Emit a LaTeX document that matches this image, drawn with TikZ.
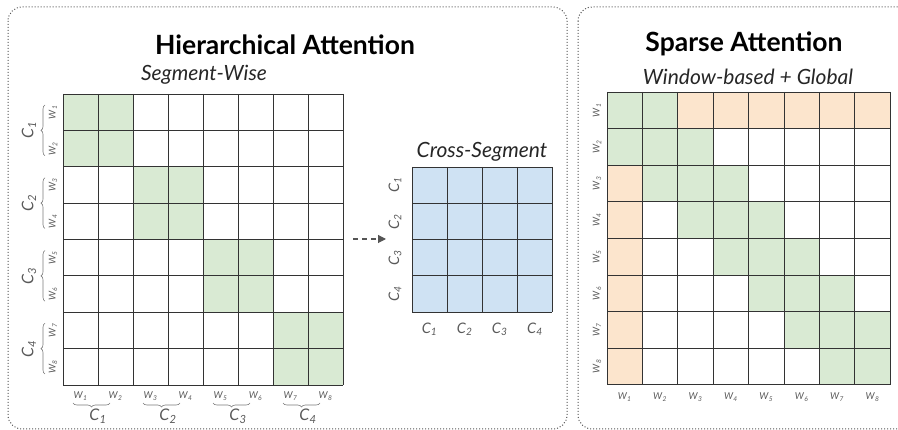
\documentclass[tikz,border=0pt]{standalone}
\usepackage{fontspec}
\setmainfont{Lato}
\usetikzlibrary{arrows.meta,decorations.pathreplacing}
\definecolor{gfill}{HTML}{D9EAD3}
\definecolor{ofill}{HTML}{FCE5CD}
\definecolor{bfill}{HTML}{CFE2F3}
\definecolor{gline}{HTML}{333333}
\definecolor{labc}{HTML}{595959}
\definecolor{panelc}{HTML}{555555}
\newcommand\lbl[2]{\textit{#1}\textsubscript{\textit{#2}}}
\begin{document}
\begin{tikzpicture}[x=1pt,y=-1pt,
  panel/.style={draw=panelc,dotted,line width=1pt,rounded corners=14pt},
  gl/.style={draw=gline,line width=0.8pt},
  title/.style={font=\fontsize{26.5}{30}\selectfont\bfseries,text=black,inner sep=0pt},
  subtitle/.style={font=\fontsize{21}{24}\selectfont\itshape,text=black!85,inner sep=0pt},
  clab/.style={font=\fontsize{16}{18}\selectfont,text=labc,inner sep=0pt},
  wlab/.style={font=\fontsize{9.5}{10}\selectfont,text=labc,inner sep=0pt},
  brc/.style={draw=labc!80,line width=0.6pt,decorate,decoration={brace,amplitude=4pt}},
  arr/.style={draw=panelc,line width=1.1pt,dash pattern=on 5pt off 4pt,-{Triangle[length=8pt,width=8pt]}}
]
\useasboundingbox (0,0) rectangle (898,430);
\begin{scope}
\clip (0,0) rectangle (898,430);
\draw[panel] (8,7) rectangle (567,429);
\draw[panel] (578,7) rectangle (920,429);
\end{scope}

% titles
\node[title] (t1) at (285,45) {Hierarchical Attention};
\node[subtitle] (st1) at (204,75) {Segment-Wise};
\node[title] (t2) at (744,44) {Sparse Attention};
\node[subtitle] (st2) at (748,77) {Window-based + Global};
\node[subtitle] (st3) at (482,152) {Cross-Segment};

% ---------- left matrix ----------
\def\lx{63}\def\ly{94}\def\lw{35}\def\lh{36.375}
\foreach \i in {0,...,3}
  \fill[gfill] (\lx+2*\lw*\i,\ly+2*\lh*\i) rectangle (\lx+2*\lw*\i+2*\lw,\ly+2*\lh*\i+2*\lh);
\foreach \k in {0,...,8} {
  \draw[gl] (\lx+\lw*\k,\ly) -- (\lx+\lw*\k,\ly+8*\lh);
  \draw[gl] (\lx,\ly+\lh*\k) -- (\lx+8*\lw,\ly+\lh*\k);
}
\foreach \k in {1,...,8} {
  \node[wlab,rotate=90] (lw\k) at (53,\ly+\lh*\k-\lh/2) {\lbl{W}{\k}};
  \node[wlab] (bw\k) at (\lx+\lw*\k-\lw/2,396) {\lbl{W}{\k}};
}
\foreach \c in {1,...,4} {
  \node[clab,rotate=90] (lc\c) at (29,\ly+2*\lh*\c-\lh) {\lbl{C}{\c}};
  \draw[brc] (45,\ly+2*\lh*\c-11) -- (45,\ly+2*\lh*\c-2*\lh+11);
  \node[clab] (bc\c) at (\lx+2*\lw*\c-\lw,416) {\lbl{C}{\c}};
  \draw[brc] (\lx+2*\lw*\c-23,403) -- (\lx+2*\lw*\c-2*\lw+10,403);
}

% ---------- arrow ----------
\coordinate (a1) at (353,239);
\coordinate (a2) at (386,239);
\draw[arr] (a1) -- (a2);

% ---------- cross matrix ----------
\def\cx{412}\def\cy{167}\def\cw{35.1}\def\ch{36.3}
\fill[bfill] (\cx,\cy) rectangle (\cx+4*\cw,\cy+4*\ch);
\foreach \k in {0,...,4} {
  \draw[gl] (\cx+\cw*\k,\cy) -- (\cx+\cw*\k,\cy+4*\ch);
  \draw[gl] (\cx,\cy+\ch*\k) -- (\cx+4*\cw,\cy+\ch*\k);
}
\foreach \c in {1,...,4} {
  \node[clab,font=\fontsize{14.5}{16}\selectfont,rotate=90] (xc\c) at (395,\cy+\ch*\c-\ch/2) {\lbl{C}{\c}};
  \node[clab,font=\fontsize{14.5}{16}\selectfont] (yc\c) at (\cx+\cw*\c-\cw/2,329) {\lbl{C}{\c}};
}

% ---------- right matrix ----------
\def\rx{607}\def\ry{92}\def\rw{35.4}\def\rh{36.6}
\fill[ofill] (\rx+2*\rw,\ry) rectangle (\rx+8*\rw,\ry+\rh);
\fill[ofill] (\rx,\ry+2*\rh) rectangle (\rx+\rw,\ry+8*\rh);
\foreach \r in {1,...,8} {
  \pgfmathtruncatemacro\cs{max(1,\r-1)}
  \pgfmathtruncatemacro\ce{min(8,\r+1)}
  \fill[gfill] (\rx+\rw*\cs-\rw,\ry+\rh*\r-\rh) rectangle (\rx+\rw*\ce,\ry+\rh*\r);
}
\foreach \k in {0,...,8} {
  \draw[gl] (\rx+\rw*\k,\ry) -- (\rx+\rw*\k,\ry+8*\rh);
  \draw[gl] (\rx,\ry+\rh*\k) -- (\rx+8*\rw,\ry+\rh*\k);
}
\foreach \k in {1,...,8} {
  \node[wlab,rotate=90] (rw\k) at (597,\ry+\rh*\k-\rh/2) {\lbl{W}{\k}};
  \node[wlab] (rb\k) at (\rx+\rw*\k-\rw/2,397) {\lbl{W}{\k}};
}
\end{tikzpicture}
\end{document}
